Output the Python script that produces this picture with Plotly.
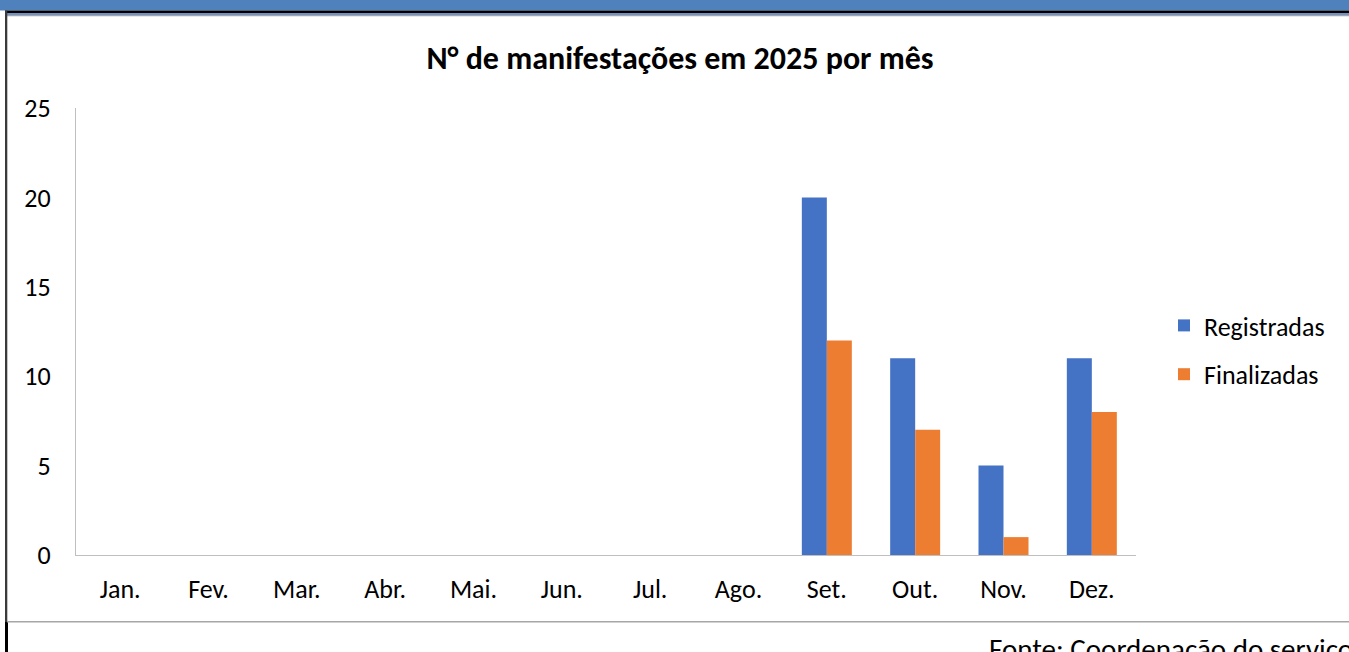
import plotly.graph_objects as go

# Monthly counts of manifestations in 2025
meses = ["Jan.", "Fev.", "Mar.", "Abr.", "Mai.", "Jun.", "Jul.", "Ago.", "Set.", "Out.", "Nov.", "Dez."]
registradas = [0, 0, 0, 0, 0, 0, 0, 0, 20, 11, 5, 11]
finalizadas = [0, 0, 0, 0, 0, 0, 0, 0, 12, 7, 1, 8]
y_ticks = [0, 5, 10, 15, 20, 25]

W, H = 1349, 652
L, R, T, B = 76, 213, 108, 97
PW, PH = W - L - R, H - T - B

FONT = "Carlito, Calibri, Lato, sans-serif"
TICK_SIZE = 26


def px(x):
    return (x - L) / PW


def py(y):
    return (H - B - y) / PH


fig = go.Figure()
fig.add_trace(go.Bar(name="Registradas", x=meses, y=registradas, marker_color="#4472C4",
                     marker_line_width=0, legendgroup="r"))
fig.add_trace(go.Bar(name="Finalizadas", x=meses, y=finalizadas, marker_color="#ED7D31",
                     marker_line_width=0, legendgroup="f"))

shapes = [
    # header band
    dict(type="rect", xref="paper", yref="paper", x0=px(-5), x1=px(W + 5), y0=py(10.5), y1=py(-5),
         fillcolor="#4F81BD", line_width=0, layer="above"),
    dict(type="rect", xref="paper", yref="paper", x0=px(5), x1=px(W + 5), y0=py(13), y1=py(10.5),
         fillcolor="#000000", line_width=0, layer="above"),
    dict(type="rect", xref="paper", yref="paper", x0=px(7), x1=px(W + 5), y0=py(15), y1=py(13),
         fillcolor="#6F93C6", line_width=0, layer="above"),
    dict(type="rect", xref="paper", yref="paper", x0=px(7), x1=px(W + 5), y0=py(16.3), y1=py(15),
         fillcolor="#A6A6A6", line_width=0, layer="above"),
    # left frame
    dict(type="rect", xref="paper", yref="paper", x0=px(5), x1=px(7.3), y0=py(622), y1=py(10.5),
         fillcolor="#3A3A3A", line_width=0, layer="above"),
    dict(type="rect", xref="paper", yref="paper", x0=px(5), x1=px(8), y0=py(H + 5), y1=py(622),
         fillcolor="#000000", line_width=0, layer="above"),
    # bottom separator
    dict(type="line", xref="paper", yref="paper", x0=px(7), x1=px(W + 5), y0=py(621.7), y1=py(621.7),
         line=dict(color="#A6A6A6", width=1.5), layer="above"),
]

fig.update_layout(
    width=W, height=H,
    margin=dict(l=L, r=R, t=T, b=B, pad=0),
    paper_bgcolor="white", plot_bgcolor="white",
    barmode="group", bargap=0.434, bargroupgap=0,
    font=dict(family=FONT, size=TICK_SIZE, color="#000000"),
    title=dict(text="<b>N° de manifestações em 2025 por mês</b>", xref="container", x=680 / W,
               xanchor="center", yref="container", y=1 - 58 / H, yanchor="middle",
               font=dict(family=FONT, size=32, color="#000000")),
    xaxis=dict(showline=True, linecolor="#BFBFBF", linewidth=1.3, ticks="", showgrid=False,
               tickfont=dict(size=TICK_SIZE), ticklabelstandoff=11, fixedrange=True),
    yaxis=dict(range=[0, 25], tickvals=y_ticks, showline=True, linecolor="#BFBFBF", linewidth=1.3,
               ticks="", showgrid=False, zeroline=False, tickfont=dict(size=TICK_SIZE),
               ticklabelstandoff=19, fixedrange=True),
    legend=dict(x=px(1164), xanchor="left", y=py(350), yanchor="middle", tracegroupgap=12,
                itemwidth=30, font=dict(size=TICK_SIZE), bgcolor="rgba(0,0,0,0)"),
    shapes=shapes,
    annotations=[dict(text="Fonte: Coordenação do serviço", xref="paper", yref="paper",
                      x=px(987), xanchor="left", y=py(649), yanchor="middle", showarrow=False,
                      font=dict(family=FONT, size=29, color="#000000"))],
    showlegend=True,
)

fig.write_html("out.html", config={"displayModeBar": False})
